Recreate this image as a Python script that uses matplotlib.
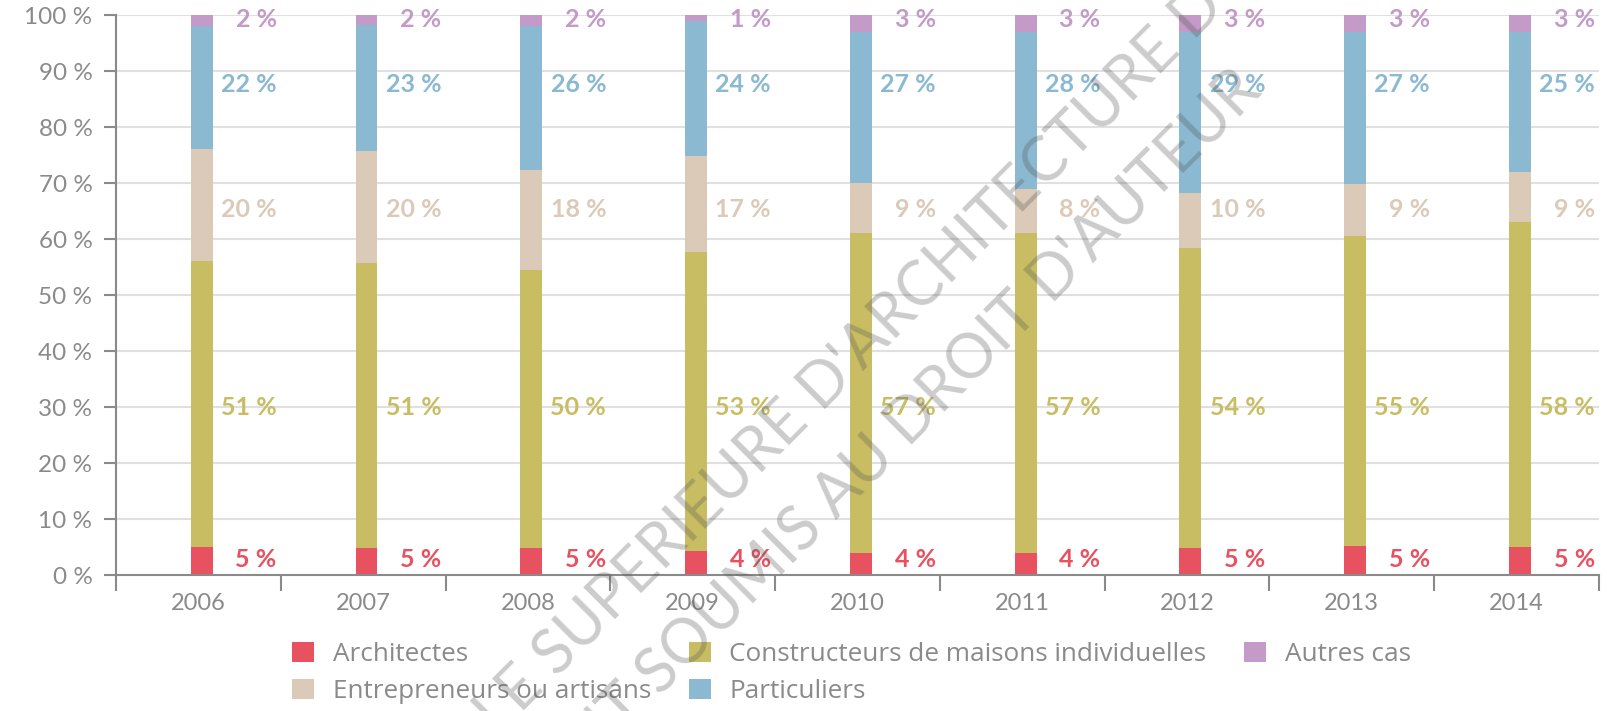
import numpy as np
import matplotlib
matplotlib.use("Agg")
import matplotlib.pyplot as plt
from matplotlib.patches import Patch

# data (share of each category, %)
years = ["2006", "2007", "2008", "2009", "2010", "2011", "2012", "2013", "2014"]
series_names = ["Architectes", "Constructeurs de maisons individuelles",
                "Entrepreneurs ou artisans", "Particuliers", "Autres cas"]
architectes = [5.0, 4.9, 4.8, 4.2, 4.0, 4.0, 4.8, 5.2, 5.0]
constructeurs = [51.0, 50.8, 49.7, 53.4, 57.0, 57.0, 53.6, 55.4, 58.0]
entrepreneurs = [20.0, 20.0, 17.8, 17.2, 9.0, 8.0, 9.8, 9.2, 9.0]
particuliers = [22.0, 22.6, 25.7, 24.2, 27.0, 28.0, 28.7, 27.2, 25.0]
autres = [2.0, 1.7, 2.0, 1.0, 3.0, 3.0, 3.1, 3.0, 3.0]
ytick_values = [0, 10, 20, 30, 40, 50, 60, 70, 80, 90, 100]
ytick_labels = ["0 %", "10 %", "20 %", "30 %", "40 %", "50 %",
                "60 %", "70 %", "80 %", "90 %", "100 %"]

colors = ["#E85160", "#C8BD63", "#DBCAB8", "#8AB9D1", "#C39AC8"]
# fixed rows where the value labels sit
label_rows = [1.4, 28.6, 63.9, 86.3, 97.9]

grey = "#8a8a8a"
plt.rcParams["font.family"] = ["Lato", "DejaVu Sans"]

fig = plt.figure(figsize=(16.08, 7.11), dpi=100)
ax = fig.add_axes([116 / 1608, 1 - 575 / 711, (1599 - 116) / 1608, (575 - 15) / 711])

x = np.arange(len(years))
all_series = [architectes, constructeurs, entrepreneurs, particuliers, autres]
bottom = np.zeros(len(years))
for vals, col, ly in zip(all_series, colors, label_rows):
    vals = np.array(vals)
    ax.bar(x + 0.02, vals, width=0.133, bottom=bottom, color=col, zorder=3)
    for xi, v in zip(x, vals):
        ax.text(xi + 0.475, ly, "%d %%" % round(v), ha="right", va="baseline",
                color=col, fontsize=18, fontweight="bold", zorder=4)
    bottom += vals

ax.set_xlim(-0.5, len(years) - 0.5)
ax.set_ylim(0, 100)
ax.set_yticks(ytick_values)
ax.set_yticklabels(ytick_labels)
ax.set_xticks(x)
ax.set_xticklabels(years)
ax.set_xticks(np.arange(-0.5, len(years), 1.0), minor=True)

ax.yaxis.grid(True, color="#e0e0e0", linewidth=1.5, zorder=0)
ax.set_axisbelow(True)
for s in ["top", "right"]:
    ax.spines[s].set_visible(False)
for s in ["left", "bottom"]:
    ax.spines[s].set_color(grey)
    ax.spines[s].set_linewidth(1.5)
    ax.spines[s].set_zorder(5)

ax.tick_params(axis="y", length=9, width=1.5, color=grey, labelcolor=grey,
               labelsize=17.5, pad=8)
ax.tick_params(axis="x", which="major", length=0, labelcolor=grey,
               labelsize=17, pad=13)
ax.tick_params(axis="x", which="minor", length=11.5, width=1.5, color=grey)

handles = [Patch(facecolor=colors[i], edgecolor="none") for i in [0, 2, 1, 3, 4]]
labels = [series_names[i] for i in [0, 2, 1, 3, 4]]
leg = fig.legend(handles, labels, ncol=3, loc="center",
                 bbox_to_anchor=(0.5295, 0.0534), frameon=False,
                 prop={"family": "Open Sans", "size": 18.8},
                 handlelength=0.85, handleheight=0.8, handletextpad=0.7,
                 columnspacing=1.45, labelspacing=0.45, borderpad=0)
for t in leg.get_texts():
    t.set_color(grey)

# watermark
wm = dict(rotation=45, rotation_mode="anchor", ha="center", va="center",
          color="#555555", alpha=0.3, fontsize=44,
          transform=fig.transFigure, zorder=10)
fig.text(850 / 1608, 1 - 360 / 711, "LE SUPERIEURE D'ARCHITECTURE D", **wm)
fig.text(902 / 1608, 1 - 430 / 711, "ENT SOUMIS AU DROIT D'AUTEUR", **wm)

fig.savefig("out.png", dpi=100)
